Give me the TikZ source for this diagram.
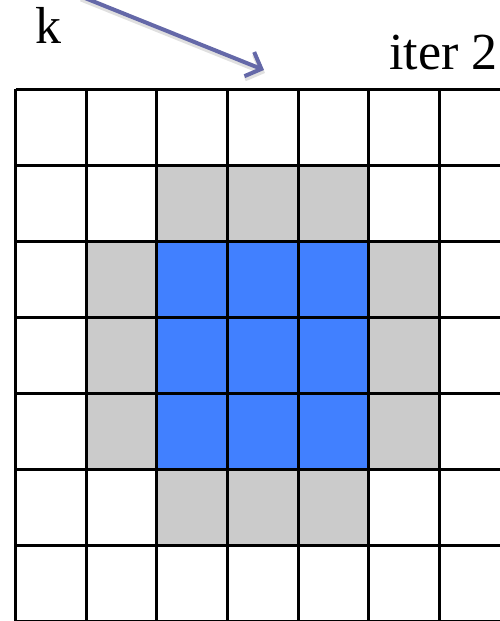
\documentclass[tikz,border=0pt]{standalone}
\usepackage{fontspec}
\setmainfont{Liberation Serif}
\usetikzlibrary{arrows.meta}
\definecolor{cellgray}{HTML}{CBCBCB}
\definecolor{cellblue}{HTML}{4180FF}
\definecolor{arrowblue}{HTML}{6468A8}
\tikzset{
  gridline/.style={line width=3pt, black},
  graycell/.style={fill=cellgray},
  bluecell/.style={fill=cellblue},
  label/.style={inner sep=0pt, font=\fontsize{52}{52}\selectfont},
  pointer/.style={line width=4pt, arrowblue, -{Straight Barb[length=13pt,width=26pt,line width=4pt]}},
  pointershadow/.style={line width=5pt, black!12, -{Straight Barb[length=13pt,width=26pt,line width=5pt]}}
}
\begin{document}
\begin{tikzpicture}[x=1pt,y=-1pt]
\useasboundingbox (0,0) rectangle (500,621);
\begin{scope}
\clip (0,0) rectangle (500,621);
% cells
\def\cw{70.6}
\def\rh{76}
\def\xo{15.7}
\def\yo{89.3}
\foreach \c/\r/\s in {2/1/graycell,3/1/graycell,4/1/graycell,
  1/2/graycell,5/2/graycell,1/3/graycell,5/3/graycell,1/4/graycell,5/4/graycell,
  2/5/graycell,3/5/graycell,4/5/graycell,
  2/2/bluecell,3/2/bluecell,4/2/bluecell,2/3/bluecell,3/3/bluecell,4/3/bluecell,2/4/bluecell,3/4/bluecell,4/4/bluecell}
  \path[\s] ({\xo+\c*\cw},{\yo+\r*\rh}) rectangle ({\xo+(\c+1)*\cw},{\yo+(\r+1)*\rh});
% grid
\foreach \i in {0,...,7}
  \draw[gridline] ({\xo+\i*\cw},\yo) -- ({\xo+\i*\cw},{\yo+7*\rh});
\foreach \j in {0,...,7}
  \draw[gridline] (\xo,{\yo+\j*\rh}) -- ({\xo+7*\cw},{\yo+\j*\rh});
\end{scope}
% labels
\node[label, anchor=base west] (k) at (35,43) {k};
\node[label, anchor=base west] (iter) at (389,69) {iter 2};
% arrow
\coordinate (astart) at (80,-4);
\coordinate (aend) at (264,70);
\coordinate (sstart) at (81,-1);
\coordinate (send) at (265,73);
\draw[pointershadow] (sstart) -- (send);
\draw[pointer] (astart) -- (aend);
\end{tikzpicture}
\end{document}
